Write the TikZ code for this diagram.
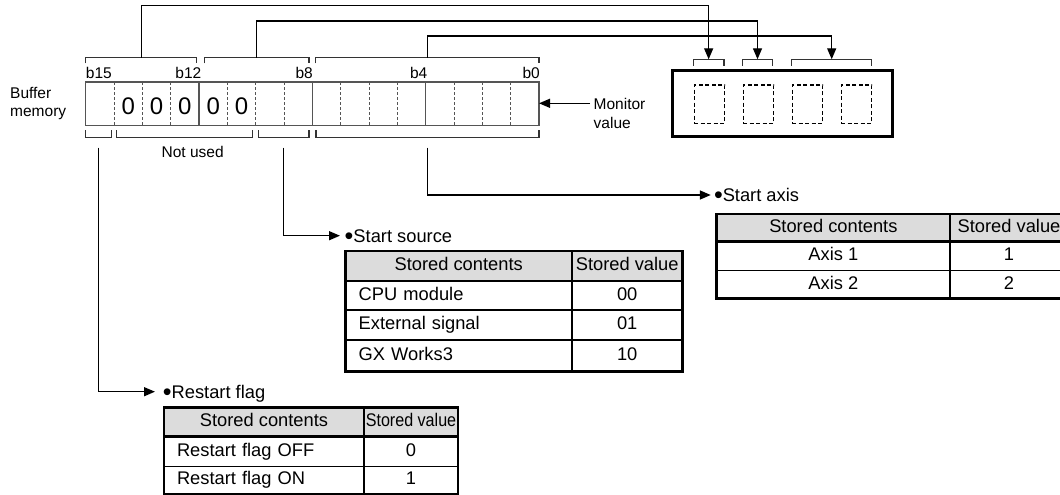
\documentclass[tikz,border=0pt]{standalone}
\usepackage{fontspec}
\setmainfont{Liberation Sans}
\usepackage{graphicx}
\usepackage{tikz}
\usetikzlibrary{arrows.meta,calc}
\definecolor{hdrgray}{HTML}{DCDCDC}
\definecolor{reggray}{HTML}{555555}
\newcommand{\lblfont}{\fontsize{15.5}{18.7}\selectfont}
\newcommand{\tblfont}{\fontsize{18.3}{21}\selectfont}
\newcommand{\zerofont}{\fontsize{24}{26}\selectfont}
\newcommand{\blt}{\raisebox{-2.4pt}{\fontsize{25}{25}\selectfont •}}
\tikzset{
  lbl/.style={font=\lblfont, inner sep=0pt},
  head/.style={font=\tblfont, inner sep=0pt, anchor=west, text height=13pt, text depth=0pt},
  conn/.style={line width=1.4pt, -{Triangle[length=11pt,width=9pt]}},
  brace/.style={line width=1.1pt, black!80},
  regdash/.style={reggray, line width=0.9pt, dash pattern=on 3pt off 2pt},
  cell/.style n args={2}{draw, line width=1.3pt, anchor=north west, minimum width=#1, minimum height=#2,
    inner sep=0pt, outer sep=0pt, font=\tblfont, text height=13pt, text depth=4pt},
  lcell/.style n args={2}{draw, line width=1.3pt, anchor=north west, text width=#1, minimum height=#2,
    inner xsep=13pt, inner ysep=0pt, outer sep=0pt, align=left, font=\tblfont, text height=13pt, text depth=4pt},
  hcell/.style n args={2}{cell={#1}{#2}, fill=hdrgray},
  tblout/.style={line width=2.6pt},
}

\begin{document}
\begin{tikzpicture}[x=1pt,y=-1pt]
  \useasboundingbox (0,0) rectangle (1060,495);
  \clip (0,0) rectangle (1060,495);

  % buffer memory register
  \node[lbl, align=left, anchor=west] (buf) at (10,103.5) {Buffer\\memory};
  \node[draw=reggray, line width=1.2pt, minimum width=453.3, minimum height=43.5,
    anchor=north west, inner sep=0pt, outer sep=0pt] (reg) at (85.7,82) {};
  \foreach \i in {1,2,3,5,6,7,9,10,11,13,14,15}
    \draw[regdash] ($(reg.north west)+({\i*28.33},0)$) -- ++(0,43.5);
  \foreach \i in {4,8,12}
    \draw[reggray, line width=1.2pt] ($(reg.north west)+({\i*28.33},0)$) -- ++(0,43.5);
  \foreach \i in {1,...,5}
    \node[font=\zerofont, inner sep=0pt, yshift=-2pt] (z\i) at ($(reg.west)+({(\i+0.5)*28.33},0)$) {0};

  \node[lbl, anchor=base west] (b15) at (85.7,78.3) {b15};
  \node[lbl, anchor=base east] (b12) at (201.5,78.3) {b12};
  \node[lbl, anchor=base east] (b8) at (313,78.3) {b8};
  \node[lbl, anchor=base east] (b4) at (427.5,78.3) {b4};
  \node[lbl, anchor=base east] (b0) at (540,78.3) {b0};

  % brackets above and below
  \foreach \a/\b/\n in {85.7/196.7/t1, 204.3/309/t2, 315.7/539/t3}{
    \draw[brace] (\a,63.5) |- (\b,57.7) -- (\b,63.5);
    \coordinate (\n) at ({(\a+\b)/2},57.7);
  }
  \foreach \a/\b/\n in {85.7/111.7/d1, 116.7/252.3/d2, 258.3/309/d3, 316/539/d4}{
    \draw[brace] (\a,130) |- (\b,137.3) -- (\b,130);
    \coordinate (\n) at ({(\a+\b)/2},147.5);
  }
  \node[lbl] (nused) at (192.7,151.7) {Not used};

  % monitor value
  \node[lbl, align=left, anchor=west] (mon) at (593.5,113.3) {Monitor\\value};
  \coordinate (monin) at (590,103.3);
  \draw[conn] (monin) -- (reg.east |- monin);

  % display unit
  \node[draw, line width=3pt, minimum width=220.4, minimum height=65.7,
    anchor=north west, inner sep=0pt, outer sep=0pt] (disp) at (672.3,71) {};
  \foreach \i in {0,...,3}
    \node[draw, line width=1.3pt, dash pattern=on 4pt off 2.5pt, minimum width=30.5, minimum height=38.4,
      anchor=north west, inner sep=0pt] (dg\i) at ({693.5+\i*49},84.3) {};
  \foreach \a/\b/\n in {693.3/724/s1, 742.3/772.7/s2, 791.7/871.7/s3}{
    \draw[brace] (\a,65.7) |- (\b,59.3) -- (\b,65.7);
    \coordinate (\n) at ({(\a+\b)/2},59.3);
  }
  \coordinate (l1) at (0,5.7);
  \coordinate (l2) at (0,21);
  \coordinate (l3) at (0,36);
  \draw[conn] (t1) -- (t1 |- l1) -| (s1);
  \draw[conn] (t2) -- (t2 |- l2) -| (s2);
  \draw[conn] (t3) -- (t3 |- l3) -| (s3);

  % field labels
  \node[head] (rflag) at (162.7,391.7) {\blt Restart flag};
  \node[head] (ssrc) at (344.5,235.7) {\blt Start source};
  \node[head] (saxis) at (713.8,195) {\blt Start axis};
  \draw[conn, shorten >=7.7pt] (d1) |- (rflag.west);
  \draw[conn, shorten >=4.5pt] (d3) |- (ssrc.west);
  \draw[conn, shorten >=3pt] (d4) |- (saxis.west);

  % restart flag table
  \node[hcell={200}{29}] (rf-h1) at (164,407.7) {Stored contents};
  \node[hcell={94}{29}] (rf-h2) at (rf-h1.north east) {\scalebox{0.88}[1]{Stored value}};
  \node[lcell={174pt}{30}] (rf-a1) at (rf-h1.south west) {Restart flag OFF};
  \node[cell={94}{30}] (rf-a2) at (rf-a1.north east) {0};
  \node[lcell={174pt}{27.3}] (rf-b1) at (rf-a1.south west) {Restart flag ON};
  \node[cell={94}{27.3}] (rf-b2) at (rf-b1.north east) {1};
  \draw[tblout] (rf-h1.north west) rectangle (rf-b2.south east);
  \draw[tblout] (rf-h1.south west) -- (rf-h2.south east);
  \draw[line width=2pt] (rf-h1.north east) -- (rf-b1.south east);

  % start source table
  \node[hcell={226}{30}] (ss-h1) at (345.7,251) {Stored contents};
  \node[hcell={111}{30}] (ss-h2) at (ss-h1.north east) {Stored value};
  \node[lcell={200pt}{29}] (ss-a1) at (ss-h1.south west) {CPU module};
  \node[cell={111}{29}] (ss-a2) at (ss-a1.north east) {00};
  \node[lcell={200pt}{30}] (ss-b1) at (ss-a1.south west) {External signal};
  \node[cell={111}{30}] (ss-b2) at (ss-b1.north east) {01};
  \node[lcell={200pt}{31.7}] (ss-c1) at (ss-b1.south west) {GX Works3};
  \node[cell={111}{31.7}] (ss-c2) at (ss-c1.north east) {10};
  \draw[tblout] (ss-h1.north west) rectangle (ss-c2.south east);
  \draw[tblout] (ss-h1.south west) -- (ss-h2.south east);
  \draw[line width=2pt] (ss-h1.north east) -- (ss-c1.south east);

  % start axis table
  \node[hcell={233.3}{27.7}] (sa-h1) at (716.7,214) {Stored contents};
  \node[hcell={118}{27.7}] (sa-h2) at (sa-h1.north east) {Stored value};
  \node[cell={233.3}{29}] (sa-a1) at (sa-h1.south west) {Axis 1};
  \node[cell={118}{29}] (sa-a2) at (sa-a1.north east) {1};
  \node[cell={233.3}{27.6}] (sa-b1) at (sa-a1.south west) {Axis 2};
  \node[cell={118}{27.6}] (sa-b2) at (sa-b1.north east) {2};
  \draw[tblout] (sa-h1.north west) rectangle (sa-b2.south east);
  \draw[tblout] (sa-h1.south west) -- (sa-h2.south east);
  \draw[line width=2pt] (sa-h1.north east) -- (sa-b1.south east);
\end{tikzpicture}
\end{document}
